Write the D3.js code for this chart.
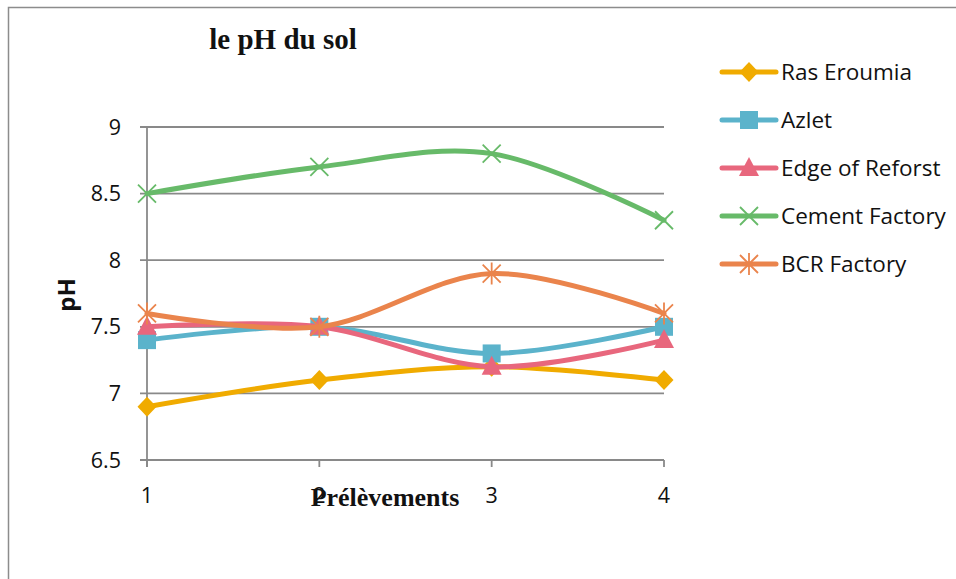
<!DOCTYPE html>
<html>
<head>
<meta charset="utf-8">
<script src="https://cdn.jsdelivr.net/npm/d3@7/dist/d3.min.js"></script>
<style>
  html, body { margin: 0; padding: 0; background: #fff; }
  svg { display: block; }
</style>
</head>
<body>
<svg id="chart" width="956" height="579"></svg>
<script>
// Sampling points and pH readings per site
const samples = [1, 2, 3, 4];
const yTicks = [6.5, 7, 7.5, 8, 8.5, 9];
const seriesNames = ["Ras Eroumia", "Azlet", "Edge of Reforst", "Cement Factory", "BCR Factory"];
const rasEroumia = [6.9, 7.1, 7.2, 7.1];
const azlet = [7.4, 7.5, 7.3, 7.5];
const edgeOfReforst = [7.5, 7.5, 7.2, 7.4];
const cementFactory = [8.5, 8.7, 8.8, 8.3];
const bcrFactory = [7.6, 7.5, 7.9, 7.6];
const seriesColors = ["#F0AB00", "#5BB3CB", "#E8677D", "#67BA69", "#EA844C"];
const seriesMarkers = ["diamond", "square", "triangle", "x", "star"];

const seriesValues = [rasEroumia, azlet, edgeOfReforst, cementFactory, bcrFactory];
const series = seriesNames.map((name, i) => ({
  name, values: seriesValues[i], color: seriesColors[i], marker: seriesMarkers[i]
}));

const svg = d3.select("#chart");
const sansFont = "'Open Sans', 'Liberation Sans', sans-serif";
const serifFont = "'Liberation Serif', 'Times New Roman', serif";
const axisGray = "#898989";

// Outer frame (open on the right and bottom edges of the page)
svg.append("rect")
  .attr("x", 8.5).attr("y", 7.5)
  .attr("width", 1000).attr("height", 700)
  .attr("fill", "none").attr("stroke", "#8c8c8c").attr("stroke-width", 1.5);

const x = d3.scalePoint().domain(samples).range([147, 664]);
const y = d3.scaleLinear().domain([6.5, 9]).range([460, 127]);

// Horizontal gridlines with left tick stubs
const grid = svg.append("g");
grid.selectAll("line.h")
  .data(yTicks)
  .join("line")
  .attr("x1", 140).attr("x2", 664)
  .attr("y1", d => y(d)).attr("y2", d => y(d))
  .attr("stroke", axisGray).attr("stroke-width", 1.8);

// Vertical axis line
svg.append("line")
  .attr("x1", x(1)).attr("x2", x(1))
  .attr("y1", y(9)).attr("y2", y(6.5) + 7)
  .attr("stroke", axisGray).attr("stroke-width", 1.8);

// Category tick marks below the baseline
svg.selectAll("line.xt")
  .data(samples)
  .join("line")
  .attr("x1", d => x(d)).attr("x2", d => x(d))
  .attr("y1", y(6.5)).attr("y2", y(6.5) + 7)
  .attr("stroke", axisGray).attr("stroke-width", 1.8);

// Y tick labels
svg.selectAll("text.yt")
  .data(yTicks)
  .join("text")
  .attr("x", 121).attr("y", d => y(d))
  .attr("dy", "0.35em")
  .attr("text-anchor", "end")
  .attr("font-family", sansFont).attr("font-size", 21.5)
  .attr("fill", "#111")
  .text(d => d === 6.5 || d === 7.5 || d === 8.5 ? d.toFixed(1) : d);

// X tick labels
svg.selectAll("text.xt")
  .data(samples)
  .join("text")
  .attr("x", d => x(d)).attr("y", 503)
  .attr("text-anchor", "middle")
  .attr("font-family", sansFont).attr("font-size", 21.5)
  .attr("fill", "#111")
  .text(d => d);

// Axis titles
svg.append("text")
  .attr("x", 385).attr("y", 506)
  .attr("text-anchor", "middle")
  .attr("font-family", serifFont).attr("font-weight", "bold").attr("font-size", 26)
  .attr("fill", "#111")
  .text("Prélèvements");

svg.append("text")
  .attr("transform", "translate(75,295) rotate(-90)")
  .attr("text-anchor", "middle")
  .attr("font-family", sansFont).attr("font-weight", "bold").attr("font-size", 24)
  .attr("fill", "#111")
  .text("pH");

// Chart title
svg.append("text")
  .attr("x", 283).attr("y", 49)
  .attr("text-anchor", "middle")
  .attr("font-family", serifFont).attr("font-weight", "bold").attr("font-size", 29)
  .attr("fill", "#111")
  .text("le pH du sol");

// Marker drawing
function drawMarker(g, type, color) {
  if (type === "diamond") {
    g.append("path").attr("d", "M0,-10L9.5,0L0,10L-9.5,0Z").attr("fill", color);
  } else if (type === "square") {
    g.append("rect").attr("x", -9).attr("y", -9).attr("width", 18).attr("height", 18).attr("fill", color);
  } else if (type === "triangle") {
    g.append("path").attr("d", "M0,-11L10,8L-10,8Z").attr("fill", color);
  } else if (type === "x") {
    g.append("path").attr("d", "M-9,-9L9,9M-9,9L9,-9")
      .attr("stroke", color).attr("stroke-width", 1.8).attr("fill", "none");
  } else if (type === "star") {
    g.append("path").attr("d", "M-9,-9L9,9M-9,9L9,-9M0,-11L0,11")
      .attr("stroke", color).attr("stroke-width", 1.8).attr("fill", "none");
  }
}

// Smoothed series lines
const line = d3.line()
  .x((d, i) => x(samples[i]))
  .y(d => y(d))
  .curve(d3.curveCardinal.tension(0));

const plot = svg.append("g");
series.forEach(s => {
  const g = plot.append("g");
  g.append("path")
    .attr("d", line(s.values))
    .attr("fill", "none")
    .attr("stroke", s.color)
    .attr("stroke-width", 5)
    .attr("stroke-linecap", "round")
    .attr("stroke-linejoin", "round");
  s.values.forEach((v, i) => {
    const m = g.append("g").attr("transform", `translate(${x(samples[i])},${y(v)})`);
    drawMarker(m, s.marker, s.color);
  });
});

// Legend
const legend = svg.append("g");
series.forEach((s, i) => {
  const ly = 72 + i * 48;
  const g = legend.append("g").attr("transform", `translate(0,${ly})`);
  g.append("line")
    .attr("x1", 722).attr("x2", 776)
    .attr("y1", 0).attr("y2", 0)
    .attr("stroke", s.color).attr("stroke-width", 5).attr("stroke-linecap", "round");
  const m = g.append("g").attr("transform", "translate(749,0)");
  drawMarker(m, s.marker, s.color);
  g.append("text")
    .attr("x", 781).attr("y", 0).attr("dy", "0.35em")
    .attr("font-family", sansFont).attr("font-size", 22.5)
    .attr("fill", "#111")
    .text(s.name);
});
</script>
</body>
</html>
